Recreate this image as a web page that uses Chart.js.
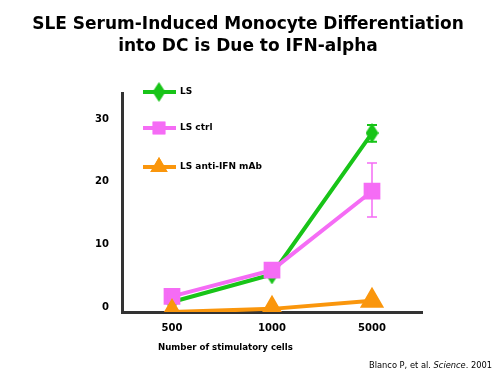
<!DOCTYPE html>
<html><head><meta charset="utf-8">
<script src="https://cdn.jsdelivr.net/npm/chart.js@4.4.1/dist/chart.umd.min.js"></script>
<style>html,body{margin:0;padding:0;background:#fff}#wrap{width:500px;height:373px;position:relative}</style>
</head><body><div id="wrap"><canvas id="c"></canvas></div>
<script>
const titleLines = ['SLE Serum-Induced Monocyte Differentiation', 'into DC is Due to IFN-alpha'];
const categories = ['500', '1000', '5000'];
const yTickValues = [0, 10, 20, 30];
const lsValues = [1.6, 6.0, 28.6];
const lsErrUp = [null, null, 29.9];
const lsErrDown = [null, null, 27.2];
const ctrlValues = [2.5, 6.7, 19.3];
const ctrlErrUp = [null, null, 23.8];
const ctrlErrDown = [null, null, 15.2];
const antiValues = [0.0, 0.5, 1.8];
const seriesLabels = ['LS', 'LS ctrl', 'LS anti-IFN mAb'];
const xTitle = 'Number of stimulatory cells';
const citation = [['Blanco P, et al. ', ''], ['Science', 'italic '], ['. 2001', '']];

const GREEN = 'rgb(24,196,24)', PINK = 'rgb(245,108,245)', ORANGE = 'rgb(250,150,12)';
const FONT = '"DejaVu Sans", sans-serif';

function tallDiamond(w, h, color) {
  const c = document.createElement('canvas');
  c.width = w; c.height = h;
  const g = c.getContext('2d');
  g.fillStyle = color;
  g.beginPath();
  g.moveTo(w / 2, 0); g.lineTo(w, h / 2); g.lineTo(w / 2, h); g.lineTo(0, h / 2);
  g.closePath(); g.fill();
  return c;
}
const diamondImg = tallDiamond(13, 20, GREEN);

const errPlugin = {
  id: 'err',
  beforeDatasetsDraw(chart) {
    const ctx = chart.ctx, x = chart.scales.x, y = chart.scales.y;
    chart.data.datasets.forEach(ds => {
      if (!ds.errUp) return;
      ds.errUp.forEach((u, i) => {
        if (u == null) return;
        const d = ds.errDown[i];
        const px = x.getPixelForValue(i);
        const pu = y.getPixelForValue(u), pd = y.getPixelForValue(d);
        ctx.save();
        ctx.strokeStyle = ds.borderColor; ctx.lineWidth = ds.errWidth;
        ctx.beginPath();
        ctx.moveTo(px, pu); ctx.lineTo(px, pd);
        ctx.moveTo(px - 5, pu); ctx.lineTo(px + 5, pu);
        ctx.moveTo(px - 5, pd); ctx.lineTo(px + 5, pd);
        ctx.stroke();
        ctx.restore();
      });
    });
  }
};

const decorPlugin = {
  id: 'decor',
  afterDraw(chart) {
    const ctx = chart.ctx;
    ctx.save();
    ctx.fillStyle = '#000';
    ctx.textAlign = 'center'; ctx.textBaseline = 'middle';
    ctx.font = 'bold 17px ' + FONT;
    ctx.fillText(titleLines[0], 248, 25);
    ctx.fillText(titleLines[1], 248, 47);
    // legend
    const ys = [92, 128, 167];
    chart.data.datasets.forEach((ds, i) => {
      const yy = ys[i];
      ctx.strokeStyle = ds.borderColor; ctx.lineWidth = 4;
      ctx.beginPath(); ctx.moveTo(143, yy); ctx.lineTo(176, yy); ctx.stroke();
      ctx.fillStyle = ds.backgroundColor;
      Chart.helpers.drawPoint(ctx, {pointStyle: ds.pointStyle, radius: ds.pointRadius, borderWidth: 0, rotation: 0}, 159, yy);
      ctx.fill();
      ctx.fillStyle = '#000';
      ctx.textAlign = 'left';
      ctx.font = 'bold 9px ' + FONT;
      ctx.fillText(ds.label, 180, yy);
    });
    // x title
    ctx.font = 'bold 8.6px ' + FONT;
    ctx.textAlign = 'left';
    ctx.fillText(xTitle, 158, 348);
    // citation
    const sz = 8.3;
    let cx = 369;
    citation.forEach(p => {
      ctx.font = p[1] + sz + 'px ' + FONT;
      ctx.fillText(p[0], cx, 366);
      cx += ctx.measureText(p[0]).width;
    });
    ctx.restore();
  }
};

new Chart(document.getElementById('c'), {
  type: 'line',
  data: {
    labels: categories,
    datasets: [
      {label: seriesLabels[0], data: lsValues, errUp: lsErrUp, errDown: lsErrDown, errWidth: 2,
       borderColor: GREEN, backgroundColor: GREEN, pointStyle: diamondImg, pointRadius: 9, borderWidth: 4, order: 2},
      {label: seriesLabels[1], data: ctrlValues, errUp: ctrlErrUp, errDown: ctrlErrDown, errWidth: 1.5,
       borderColor: PINK, backgroundColor: PINK, pointStyle: 'rect', pointRadius: 9, borderWidth: 4, order: 1},
      {label: seriesLabels[2], data: antiValues,
       borderColor: ORANGE, backgroundColor: ORANGE, pointStyle: 'triangle', pointRadius: 10, borderWidth: 4, order: 0}
    ]
  },
  options: {
    responsive: true, maintainAspectRatio: false, animation: false,
    layout: {padding: {top: 93, right: 78, left: 0, bottom: 0}},
    elements: {point: {borderWidth: 0}, line: {tension: 0}},
    plugins: {legend: {display: false}, tooltip: {enabled: false}, title: {display: false}},
    scales: {
      x: {
        offset: true,
        grid: {display: false, drawTicks: false},
        border: {display: true, color: '#333', width: 3},
        ticks: {color: '#000', font: {family: FONT, size: 10, weight: 'bold'}, padding: 10},
        afterFit(s) { s.height = 61; }
      },
      y: {
        min: 0, max: 35,
        grid: {display: false, drawTicks: false},
        border: {display: true, color: '#333', width: 3},
        afterBuildTicks(s) { s.ticks = yTickValues.map(v => ({value: v})); },
        ticks: {color: '#000', font: {family: FONT, size: 10, weight: 'bold'}, padding: 13, labelOffset: -5},
        afterFit(s) { s.width = 122; }
      }
    }
  },
  plugins: [errPlugin, decorPlugin]
});
</script></body></html>
